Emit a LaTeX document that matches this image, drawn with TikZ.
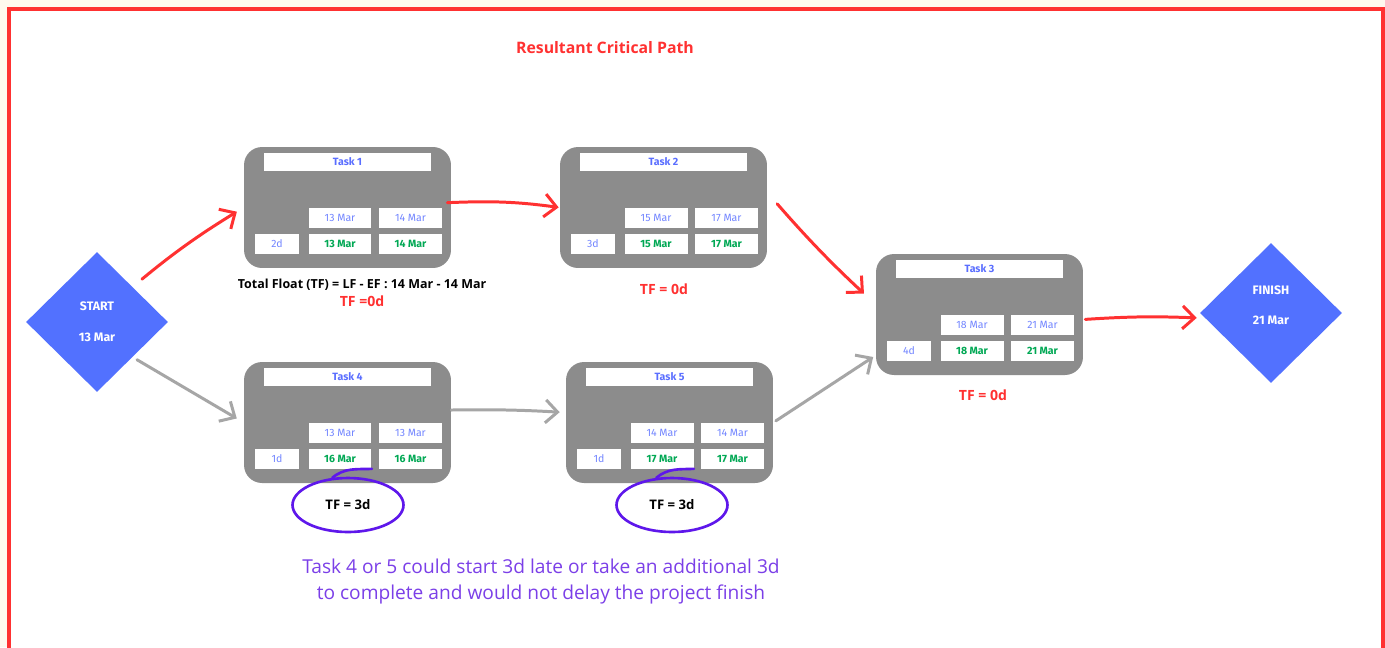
\documentclass[tikz,border=0pt]{standalone}
\usepackage{fontspec}
\setmainfont{Open Sans}
\newfontfamily\plex{Fira Sans}
\usetikzlibrary{shapes.geometric,arrows.meta}

\definecolor{paper}{HTML}{FFF8EE}
\definecolor{critred}{HTML}{FF3131}
\definecolor{flowgray}{HTML}{A6A6A6}
\definecolor{boxgray}{HTML}{8C8C8C}
\definecolor{milestone}{HTML}{5271FF}
\definecolor{cellblue}{HTML}{7386FF}
\definecolor{headblue}{HTML}{5A6EFF}
\definecolor{lategreen}{HTML}{00A854}
\definecolor{ringpurple}{HTML}{5E17EB}
\definecolor{notepurple}{HTML}{7B3FE8}

\tikzset{
  taskbox/.style={rectangle, rounded corners=0.36cm, fill=boxgray, inner sep=0,
    minimum width=4.14cm, minimum height=2.42cm},
  cell/.style={fill=white, inner sep=0, minimum height=0.4cm,
    font=\plex\fontsize{6}{7}\selectfont},
  headcell/.style={cell, minimum width=3.34cm, minimum height=0.36cm, text=headblue,
    font=\plex\bfseries\fontsize{6}{7}\selectfont},
  durcell/.style={cell, minimum width=0.88cm, text=cellblue},
  datecell/.style={cell, minimum width=1.26cm, text=cellblue},
  latecell/.style={cell, minimum width=1.26cm, text=lategreen,
    font=\plex\bfseries\fontsize{6}{7}\selectfont},
  milestonenode/.style={diamond, fill=milestone, inner sep=0, text=white, align=center,
    minimum width=2.84cm, minimum height=2.8cm, font=\plex\bfseries\fontsize{7}{8}\selectfont},
  critline/.style={draw=critred, line width=1.7pt, line cap=round,
    -{Straight Barb[length=2.4mm,width=4.6mm]}},
  flowline/.style={critline, draw=flowgray},
  ring/.style={ellipse, draw=ringpurple, line width=1.5pt, inner sep=0,
    minimum width=2.22cm, minimum height=1.08cm, font=\bfseries\fontsize{7.5}{9}\selectfont},
  ringtail/.style={draw=ringpurple, line width=1.5pt, line cap=round},
  critnote/.style={text=critred, font=\bfseries\fontsize{8}{9}\selectfont},
}

% one activity box: name, x, y (top left), title, duration, ES, EF, LS, LF
\newcommand{\pertbox}[9]{%
  \begin{scope}[shift={(#2,#3)}]
    \node[taskbox] (#1) at (103.5,60.5) {};
    \node[headcell] (#1-head) at (103.5,15) {#4};
    \node[durcell] (#1-dur) at (33,96.5) {#5};
    \node[datecell] (#1-es) at (96,71) {#6};
    \node[datecell] (#1-ef) at (166.5,71) {#7};
    \node[latecell] (#1-ls) at (96,96.5) {#8};
    \node[latecell] (#1-lf) at (166.5,96.5) {#9};
  \end{scope}}

\begin{document}
\begin{tikzpicture}[x=0.02cm, y=-0.02cm]
    \useasboundingbox (0,0) rectangle (1385,647);
    \fill[paper] (0,0) rectangle (1385,647);
    \fill[white] (9,9) rectangle (1383,647);
    \draw[critred, line width=2.2pt] (9,660) -- (9,9) -- (1383,9) -- (1383,660);

    \node[critnote, font=\bfseries\fontsize{9}{10}\selectfont] (title) at (605,48) {Resultant Critical Path};

    \node[milestonenode] (start) at (97,322) {START\\[3.4mm]13 Mar};
    \node[milestonenode] (finish) at (1271,313) {FINISH\\[3.2mm]21 Mar\\[0.4mm]\mbox{}};

    \pertbox{t1}{244}{147}{Task 1}{2d}{13 Mar}{14 Mar}{13 Mar}{14 Mar}
    \pertbox{t2}{560}{147}{Task 2}{3d}{15 Mar}{17 Mar}{15 Mar}{17 Mar}
    \pertbox{t3}{876}{254}{Task 3}{4d}{18 Mar}{21 Mar}{18 Mar}{21 Mar}
    \pertbox{t4}{244}{362}{Task 4}{1d}{13 Mar}{13 Mar}{16 Mar}{16 Mar}
    \pertbox{t5}{566}{362}{Task 5}{1d}{14 Mar}{14 Mar}{17 Mar}{17 Mar}

    % critical path
    \draw[critline, shorten <=2.4mm, shorten >=1.6mm] (start.north east) to[bend left=4] (t1.west);
    \draw[critline, shorten <=-0.8mm, shorten >=0.2mm] ([yshift=1mm]t1.east) to[bend left=5] (t2.west);
    \draw[critline, shorten <=3mm, shorten >=3.2mm] ([yshift=3mm]t2.east) to[bend right=3] ([yshift=2mm]t3.west);
    \draw[critline, shorten <=0.4mm, shorten >=0.6mm] ([yshift=-0.1cm]t3.east) to[bend left=3] ([yshift=-0.1cm]finish.west);

    % path with float
    \draw[flowline, shorten <=1mm, shorten >=1.6mm] (start.south east) -- (t4.west);
    \draw[flowline, shorten >=1.2mm] ([yshift=2.5mm]t4.east) to[bend left=2] ([yshift=2mm]t5.west);
    \draw[flowline, shorten <=0.6mm, shorten >=0.6mm] (t5.east) -- ([yshift=4mm]t3.south west);

    % float notes
    \node[font=\bfseries\fontsize{7.1}{8}\selectfont] (tf1-calc) at (362,285) {Total Float (TF) = LF - EF : 14 Mar - 14 Mar};
    \node[critnote] (tf1) at (362,301) {TF =0d};
    \node[critnote] (tf2) at (664,289) {TF = 0d};
    \node[critnote] (tf3) at (983,395) {TF = 0d};

    \node[ring] (tf4) at (348,505) {TF = 3d};
    \node[ring] (tf5) at (672,505) {TF = 3d};
    \draw[ringtail] (t4-ls.south east) to[out=182,in=40] (tf4.120);
    \draw[ringtail] (t5-ls.south east) to[out=182,in=40] (tf5.120);

    \node[text=notepurple, align=center, font=\fontsize{10.9}{14.8}\selectfont] (summary) at (541,582)
      {Task 4 or 5 could start 3d late or take an additional 3d\\to complete and would not delay the project finish};
\end{tikzpicture}
\end{document}
